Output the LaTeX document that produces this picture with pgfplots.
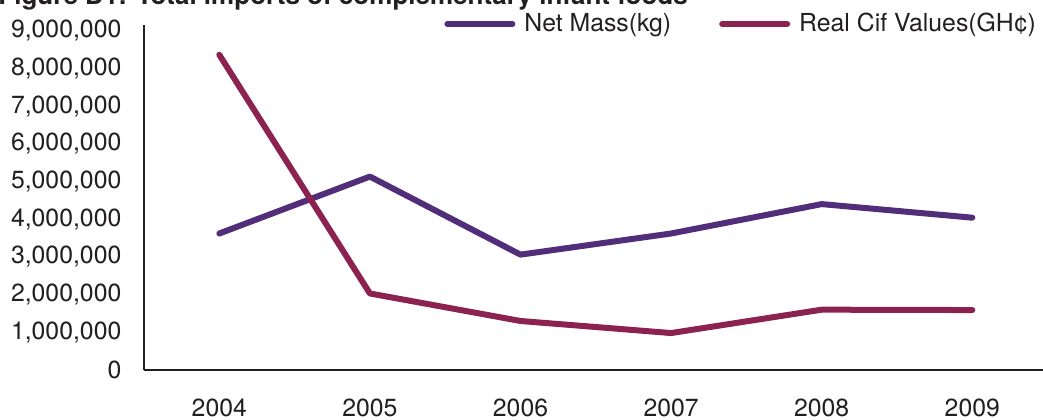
\documentclass[border=0pt]{standalone}
\usepackage{pgfplots}
\pgfplotsset{compat=1.18}
\usepackage{fontspec}
\setmainfont{TeX Gyre Heros}
\definecolor{netmass}{RGB}{82,46,122}
\definecolor{cif}{RGB}{140,34,80}
\definecolor{txt}{RGB}{35,31,32}
\begin{document}
\fontsize{12.4}{14}\selectfont
\begin{tikzpicture}
\path[use as bounding box] (0,0) rectangle (521.5pt,209.5pt);
\clip (0,0) rectangle (521.5pt,209.5pt);
\node[anchor=base west, inner sep=0pt, font=\fontsize{13}{15}\selectfont\bfseries, text=txt] at (-1pt,207.5pt) {Figure D1: Total imports of complementary infant foods};
\begin{axis}[
  at={(72pt,24.5pt)}, anchor=south west,
  scale only axis, width=451.8pt, height=172.5pt,
  xmin=2003.5, xmax=2009.5, ymin=0, ymax=9150000,
  axis lines*=left,
  axis line style={draw=txt, line width=0.75pt},
  major tick length=0pt,
  xtick={2004,2005,2006,2007,2008,2009},
  xticklabels={2004,2005,2006,2007,2008,2009},
  ytick={0,1000000,2000000,3000000,4000000,5000000,6000000,7000000,8000000,9000000},
  scaled y ticks=false,
  /pgf/number format/assume math mode=true,
  yticklabel style={/pgf/number format/fixed, /pgf/number format/1000 sep={,}, xshift=-7pt},
  xticklabel style={yshift=-10pt},
  every tick label/.append style={font=\fontsize{12.4}{14}\selectfont, text=txt},
  legend columns=2,
  legend style={at={(axis description cs:0.332,1.003)}, anchor=west, draw=none, fill=none, inner sep=0pt,
    /tikz/every odd column/.append style={column sep=2.5pt},
    /tikz/every even column/.append style={column sep=22pt},
    font=\fontsize{12.4}{14}\selectfont, text=txt},
  legend cell align=left,
  legend image code/.code={\draw[#1,line width=3pt,line cap=round] (0pt,0pt) -- (32.5pt,0pt);},
]
\addplot[netmass, line width=3pt, line cap=round, line join=round] coordinates {
  (2004,3620000) (2005,5130000) (2006,3060000) (2007,3620000) (2008,4400000) (2009,4040000)};
\addlegendentry{Net Mass(kg)}
\addplot[cif, line width=3pt, line cap=round, line join=round] coordinates {
  (2004,8360000) (2005,2030000) (2006,1300000) (2007,980000) (2008,1600000) (2009,1590000)};
\addlegendentry{Real Cif Values(GH¢)}
\end{axis}
\end{tikzpicture}
\end{document}
